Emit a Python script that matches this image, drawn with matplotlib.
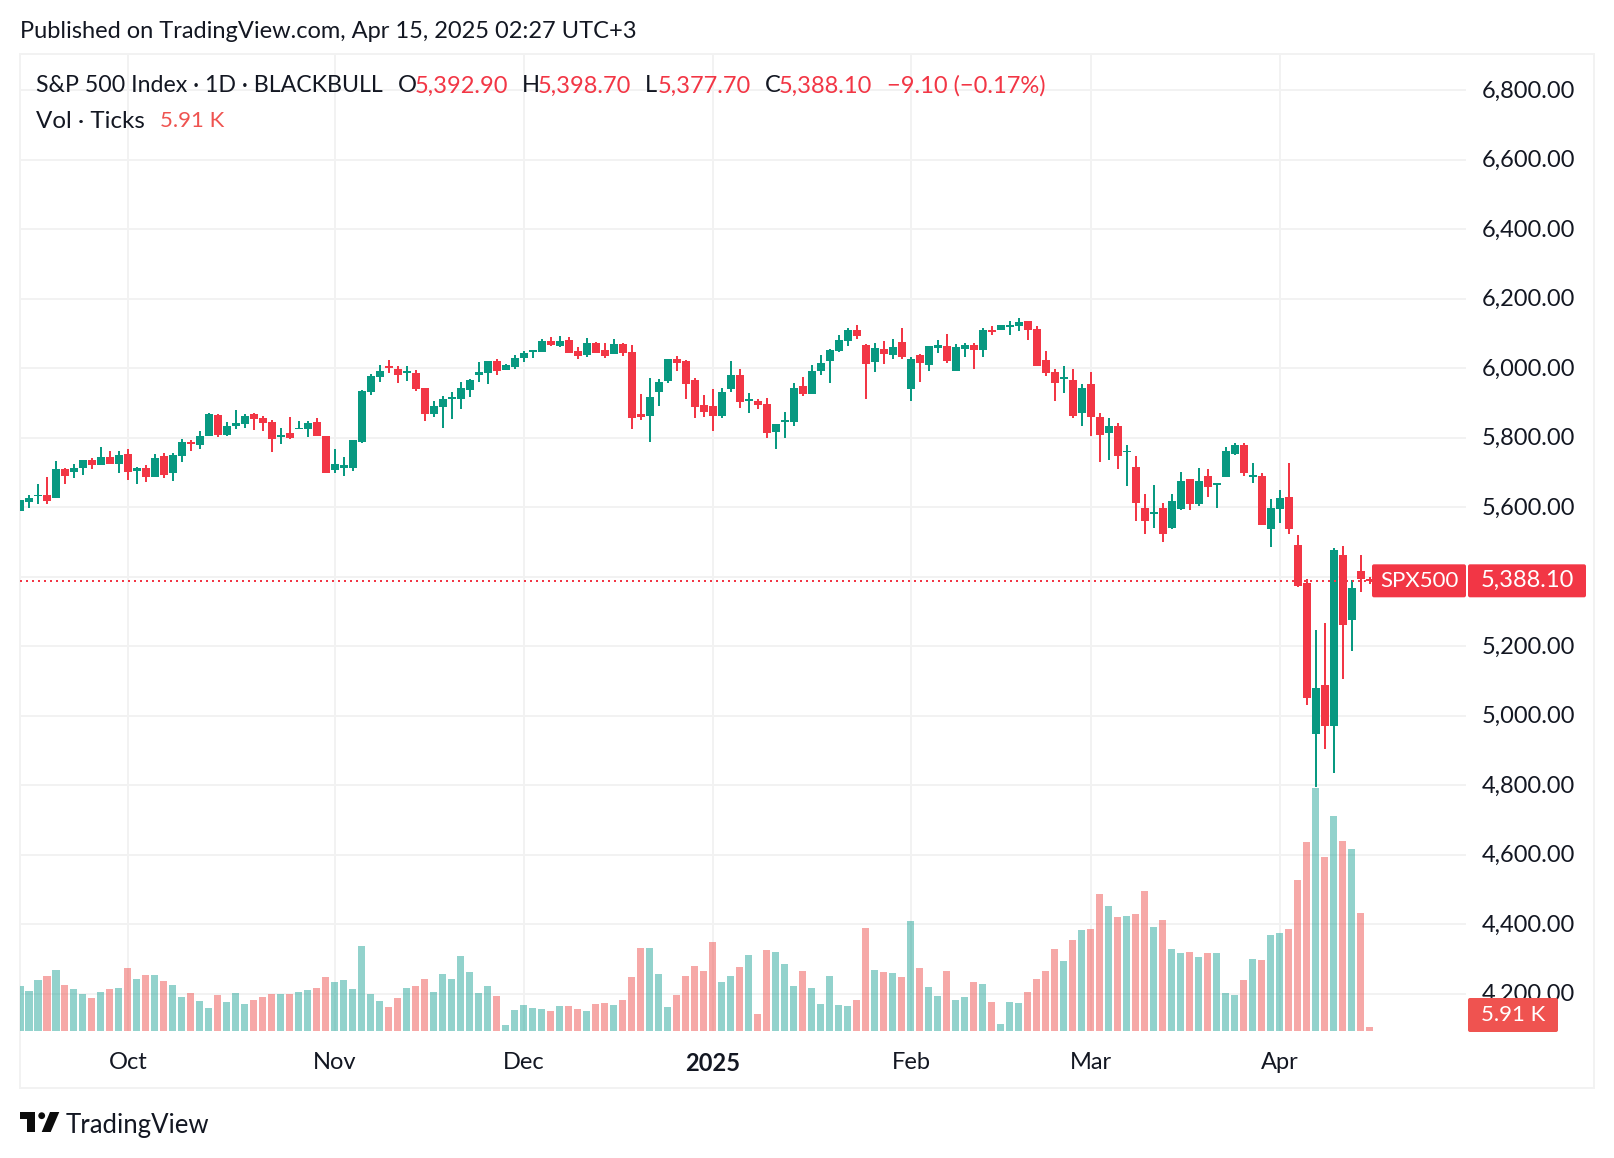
#S&P 500 daily candles with tick volume, TradingView style
import matplotlib
matplotlib.use("Agg")
import matplotlib.pyplot as plt
from matplotlib.patches import FancyBboxPatch, Polygon, Circle
from matplotlib.transforms import IdentityTransform, ScaledTranslation

#Data
opens = [5588,5616,5631,5634,5625,5709,5700,5712,5735,5720,5743,5723,5752,5703,5714,5688,5746,5697,5746,5787,
         5778,5806,5864,5809,5835,5838,5867,5856,5844,5801,5812,5824,5824,5844,5804,5706,5714,5714,5787,5931,
         5974,6006,5997,5986,5986,5942,5867,5887,5910,5910,5937,5980,5986,6020,5994,6003,6029,6046,6046,6078,
         6063,6081,6049,6037,6072,6052,6040,6069,6046,5867,5861,5931,5962,6026,6020,5965,5893,5890,5861,5939,
         5980,5905,5905,5896,5815,5844,5844,5948,5925,5991,6020,6049,6078,6110,6066,6017,6055,6037,6075,5939,
         6037,6009,6058,6063,5991,6055,6066,6052,6110,6110,6118,6121,6136,6112,6023,5988,5968,5965,5870,5954,
         5859,5812,5833,5758,5717,5599,5579,5599,5541,5596,5680,5610,5690,5664,5687,5753,5779,5687,5690,5537,
         5595,5629,5491,5381,4946,5087,4969,5462,5275,5416,5392.9]
highs = [5622,5634,5668,5688,5732,5712,5723,5735,5741,5772,5761,5761,5766,5717,5720,5752,5755,5755,5795,5792,
         5818,5870,5867,5844,5879,5867,5870,5861,5850,5827,5859,5847,5847,5856,5806,5766,5743,5792,5937,5983,
         6009,6023,6006,6006,5994,5942,5905,5919,5931,5960,5968,6017,6020,6026,6012,6037,6049,6052,6084,6089,
         6092,6089,6060,6086,6075,6072,6084,6072,6066,5925,5971,5968,6026,6035,6023,5971,5922,5939,5942,6020,
         5997,5928,5910,5913,5838,5873,5957,5974,6009,6037,6055,6095,6115,6124,6069,6072,6078,6084,6115,6032,
         6040,6063,6081,6098,6069,6072,6072,6115,6121,6124,6136,6144,6136,6121,6049,5997,6006,5997,5954,5988,
         5870,5856,5841,5778,5746,5639,5665,5613,5639,5700,5680,5714,5710,5669,5773,5785,5785,5727,5698,5623,
         5649,5727,5520,5393,5246,5266,5482,5488,5390,5462,5398.7]
lows = [5588,5599,5610,5608,5625,5668,5683,5694,5709,5720,5723,5697,5677,5668,5671,5688,5683,5674,5729,5761,
        5766,5804,5801,5804,5824,5829,5821,5818,5758,5781,5795,5824,5801,5804,5697,5697,5691,5703,5784,5922,
        5960,5986,5957,5962,5934,5847,5859,5827,5853,5882,5916,5960,5954,5980,5994,5997,6017,6029,6046,6063,
        6060,6043,6026,6032,6043,6029,6040,6035,5824,5850,5787,5890,5957,5991,5910,5856,5859,5818,5856,5931,
        5885,5870,5882,5798,5766,5798,5835,5919,5925,5980,5957,6046,6063,6084,5910,5988,6012,6026,6026,5905,
        5960,5991,6043,6014,5991,6032,5997,6032,6095,6110,6095,6107,6081,6006,5977,5905,5928,5856,5833,5806,
        5729,5737,5709,5660,5559,5524,5541,5501,5538,5593,5593,5602,5629,5597,5687,5750,5690,5669,5548,5485,
        5554,5522,5370,5030,4796,4903,4834,5105,5185,5355,5377.7]
closes = [5622,5625,5636,5619,5709,5691,5714,5735,5720,5743,5723,5749,5700,5714,5688,5741,5694,5749,5787,5781,
          5804,5867,5809,5835,5841,5861,5853,5841,5795,5809,5798,5829,5841,5804,5697,5723,5720,5792,5934,5977,
          5991,6000,5980,5991,5939,5867,5890,5910,5916,5942,5965,5988,6020,5991,6009,6029,6043,6052,6078,6066,
          6078,6043,6035,6072,6043,6035,6069,6043,5856,5859,5916,5960,6026,6014,5954,5887,5873,5861,5931,5980,
          5902,5910,5893,5812,5838,5850,5942,5925,5991,6014,6052,6081,6110,6092,6012,6058,6040,6060,6032,6026,
          6014,6063,6066,6020,6060,6066,6052,6110,6104,6124,6124,6133,6110,6006,5986,5957,5974,5861,5942,5859,
          5809,5833,5746,5763,5613,5561,5587,5524,5619,5674,5608,5674,5658,5669,5762,5779,5698,5692,5548,5597,
          5626,5537,5373,5050,5079,4969,5476,5260,5367,5393,5388.1]
#volume in thousands of ticks
volumes = [66.5,59.1,75.4,81.3,90.1,68.0,62.1,54.7,48.8,57.6,62.1,63.5,93.1,76.8,82.7,82.7,73.9,68.0,50.2,56.1,
           44.3,34.0,53.2,42.8,56.1,39.9,45.8,50.2,54.7,54.7,54.7,57.6,60.6,63.5,79.8,72.4,75.4,62.1,125.6,54.7,
           44.3,35.5,48.8,63.5,66.5,76.8,57.6,84.2,76.8,110.8,87.2,56.1,66.5,51.7,8.9,31.0,38.4,34.0,32.5,29.6,
           36.9,36.9,32.5,29.6,39.9,41.4,38.4,45.8,79.8,122.6,122.6,84.2,35.5,53.2,81.3,96.0,88.7,131.5,72.4,81.3,
           94.6,112.3,25.1,119.7,116.7,99.0,66.5,88.7,63.5,39.9,81.3,38.4,36.9,45.8,152.2,90.1,87.2,85.7,79.8,162.5,
           93.1,65.0,51.7,88.7,45.8,50.2,72.4,69.4,42.8,10.3,42.8,41.4,57.6,76.8,88.7,121.2,103.4,134.5,149.2,150.7,
           202.4,184.7,168.4,169.9,172.9,206.9,153.7,164.0,121.2,115.2,116.7,109.3,115.2,115.2,56.1,53.2,75.4,106.4,104.9,141.8,
           144.8,150.7,223.1,279.2,359.0,257.1,317.7,280.7,268.9,174.3,5.91]
price_ticks = [4200,4400,4600,4800,5000,5200,5400,5600,5800,6000,6200,6400,6600,6800]
month_pos = [12,35,56,77,99,119,140]
month_labels = ["Oct","Nov","Dec","2025","Feb","Mar","Apr"]

W = 1614
H = 1158
UP = "#089981"
DOWN = "#F23645"
VOL_UP = "#26a69a"
VOL_DOWN = "#ef5350"
GRID = "#f2f2f2"
INK = "#131722"
plt.rcParams["font.family"] = "Lato"


def px(x, y):  #pixels from top left, to figure fraction
    return x / W, 1 - y / H


def px_text(x, y, s, size, color=INK, **kw):
    fx, fy = px(x, y)
    fig.text(fx, fy, s, fontsize=size, color=color, va="center", zorder=10, **kw)


fig = plt.figure(figsize=(W / 100, H / 100), dpi=100, facecolor="white")

#outer frame
frame = fig.add_axes([20 / W, 1 - 1088 / H, 1574 / W, 1034 / H], zorder=0)
frame.set_xticks([])
frame.set_yticks([])
for s in frame.spines.values():
    s.set_color(GRID)
    s.set_linewidth(1.44)

#price pane
ax = fig.add_axes([20 / W, 1 - 1031 / H, 1446 / W, 977 / H], zorder=1)
ax.patch.set_visible(False)
for s in ax.spines.values():
    s.set_visible(False)
ax.set_xlim(0, 160.67)
ax.set_ylim(4092.7, 6904)
ax.set_yticks(price_ticks)
ax.set_yticklabels([f"{p:,.2f}" for p in price_ticks])
ax.yaxis.tick_right()
ax.tick_params(axis="y", length=0, pad=11.5, labelsize=17, labelcolor=INK)
ax.set_xticks(month_pos)
ax.set_xticklabels(month_labels)
ax.tick_params(axis="x", length=0, pad=15, labelsize=17, labelcolor=INK)
ax.get_xticklabels()[3].set_fontweight("bold")
ax.grid(True, color=GRID, linewidth=1.44)
ax.set_axisbelow(True)
up_1px = ScaledTranslation(0, 1 / 100, fig.dpi_scale_trans)
for label in ax.get_yticklabels():
    label.set_transform(label.get_transform() + up_1px)

xs = list(range(len(closes)))
colors = [UP if c >= o else DOWN for o, c in zip(opens, closes)]
ax.vlines(xs, lows, highs, colors=colors, linewidth=1.44, zorder=3)
ax.bar(xs, [abs(c - o) for o, c in zip(opens, closes)], width=0.889,
       bottom=[min(o, c) for o, c in zip(opens, closes)], color=colors, linewidth=0, zorder=3)
ax.axhline(closes[-1], color=DOWN, linewidth=1.44, linestyle=(0, (1, 2)), zorder=4)

#volume pane on top, same width
ax_vol = fig.add_axes([20 / W, 1 - 1031 / H, 1446 / W, 977 / H], zorder=2)
ax_vol.patch.set_visible(False)
ax_vol.axis("off")
ax_vol.set_xlim(0, 160.67)
ax_vol.set_ylim(0, 1443.5)
vol_colors = [VOL_UP if c >= o else VOL_DOWN for o, c in zip(opens, closes)]
ax_vol.bar(xs, volumes, width=0.778, color=vol_colors, alpha=0.5, linewidth=0)

#labels on the scale
last_y = H - ax.transData.transform((0, closes[-1]))[1]


def tag(x0, x1, y0, y1, color, s, cx, size=17):
    box = FancyBboxPatch((x0, H - y1), x1 - x0, y1 - y0, boxstyle="round,pad=0,rounding_size=2",
                         transform=IdentityTransform(), facecolor=color, edgecolor="none", zorder=9)
    fig.add_artist(box)
    fx, fy = px(cx, (y0 + y1) / 2)
    fig.text(fx, fy, s, fontsize=size, color="white", ha="center", va="center", zorder=10)


tag(1372, 1466, last_y - 16.5, last_y + 16.5, DOWN, "SPX500", 1419, 16)
tag(1468, 1586, last_y - 16.5, last_y + 16.5, DOWN, f"{closes[-1]:,.2f}", 1527)
tag(1468, 1558, 998, 1032, VOL_DOWN, "5.91 K", 1513, 16)

#header and legend
px_text(20, 32, "Published on TradingView.com, Apr 15, 2025 02:27 UTC+3", 17.05)
px_text(36, 86, "S&P 500 Index · 1D · BLACKBULL", 16.7)
px_text(398, 86, "O", 17)
px_text(415, 86, f"{opens[-1]:,.2f}", 17, DOWN)
px_text(522, 86, "H", 17)
px_text(538, 86, f"{highs[-1]:,.2f}", 17, DOWN)
px_text(645, 86, "L", 17)
px_text(658, 86, f"{lows[-1]:,.2f}", 17, DOWN)
px_text(765, 86, "C", 17)
px_text(779, 86, f"{closes[-1]:,.2f}", 17, DOWN)
px_text(887, 86, "−9.10 (−0.17%)", 17, DOWN)
px_text(36, 121, "Vol · Ticks", 17.4)
px_text(160, 121, "5.91 K", 16, VOL_DOWN)

#logo
logo_t = [(20, 1112), (35, 1112), (35, 1132), (27.3, 1132), (27.3, 1119), (20, 1119)]
logo_v = [(59.3, 1112), (50.7, 1132), (41.7, 1132), (50, 1112)]
for pts in (logo_t, logo_v):
    fig.add_artist(Polygon([px(*p) for p in pts], closed=True, transform=fig.transFigure,
                           facecolor="#0c0c0c", edgecolor="none"))
fig.add_artist(Circle((41.7, H - 1115.7), 3.4, transform=IdentityTransform(), facecolor="#0c0c0c", edgecolor="none"))
px_text(66, 1125, "TradingView", 18.5)

fig.savefig("out.png", dpi=100)
